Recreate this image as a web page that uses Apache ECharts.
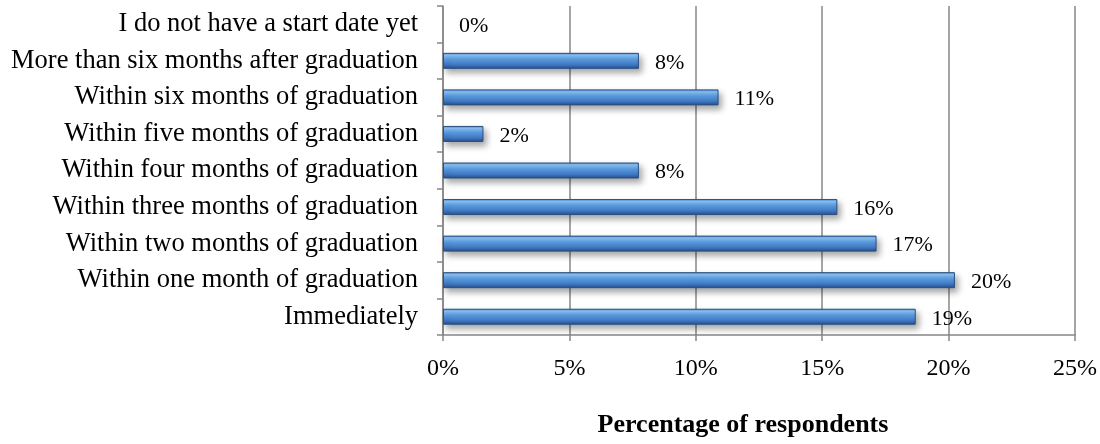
<!DOCTYPE html>
<html>
<head>
<meta charset="utf-8">
<script src="https://cdn.jsdelivr.net/npm/echarts@6/dist/echarts.min.js"></script>
<style>
html,body{margin:0;padding:0;background:#fff;}
#c{width:1100px;height:444px;}
</style>
</head>
<body>
<div id="c"></div>
<script>
var categories = [
  "Immediately",
  "Within one month of graduation",
  "Within two months of graduation",
  "Within three months of graduation",
  "Within four months of graduation",
  "Within five months of graduation",
  "Within six months of graduation",
  "More than six months after graduation",
  "I do not have a start date yet"
];
var values = [18.7, 20.25, 17.15, 15.6, 7.75, 1.6, 10.9, 7.75, 0];
var xTicks = [0, 5, 10, 15, 20, 25];
var axisTitle = "Percentage of respondents";

var FONT = '"Liberation Serif", "Times New Roman", serif';
var chart = echarts.init(document.getElementById('c'), null, {renderer: 'canvas'});

var seriesData = values.map(function (v) {
  if (v === 0) {
    return {value: v, itemStyle: {borderWidth: 0, shadowBlur: 0, shadowOffsetX: 0, shadowOffsetY: 0, opacity: 0}};
  }
  return v;
});

chart.setOption({
  animation: false,
  backgroundColor: '#ffffff',
  grid: {left: 443, right: 25, top: 6, bottom: 109, containLabel: false},
  xAxis: {
    type: 'value',
    min: xTicks[0],
    max: xTicks[xTicks.length - 1],
    interval: 5,
    axisLine: {show: true, lineStyle: {color: '#878787', width: 1.5}},
    axisTick: {show: true, length: 6, lineStyle: {color: '#878787', width: 1.5}},
    splitLine: {show: true, lineStyle: {color: '#878787', width: 1.5}},
    axisLabel: {
      margin: 22,
      color: '#000',
      fontFamily: FONT,
      fontSize: 24,
      formatter: function (v) { return v + '%'; }
    }
  },
  yAxis: {
    type: 'category',
    data: categories,
    axisLine: {show: true, lineStyle: {color: '#878787', width: 1.5}},
    axisTick: {show: true, length: 6, lineStyle: {color: '#878787', width: 1.5}},
    splitLine: {show: false},
    axisLabel: {
      margin: 25,
      color: '#000',
      fontFamily: FONT,
      fontSize: 26.5,
      padding: [5, 0, 0, 0]
    }
  },
  graphic: [{
    type: 'text',
    x: 743,
    y: 425,
    style: {
      text: axisTitle,
      fill: '#000',
      font: 'bold 26px ' + FONT,
      textAlign: 'center',
      textVerticalAlign: 'middle'
    }
  }],
  series: [{
    type: 'bar',
    data: seriesData,
    barWidth: 16,
    itemStyle: {
      color: new echarts.graphic.LinearGradient(0, 0, 0, 1, [
        {offset: 0, color: '#4a86cf'},
        {offset: 0.15, color: '#8cc3f5'},
        {offset: 0.4, color: '#5d9fe6'},
        {offset: 0.75, color: '#3f78c2'},
        {offset: 1, color: '#254d85'}
      ]),
      borderColor: '#2a4f80',
      borderWidth: 1,
      shadowColor: 'rgba(0,0,0,0.35)',
      shadowBlur: 6,
      shadowOffsetX: 3,
      shadowOffsetY: 4
    },
    label: {
      show: true,
      position: 'right',
      distance: 16,
      offset: [0, 2],
      color: '#000',
      opacity: 1,
      fontFamily: FONT,
      fontSize: 22,
      formatter: function (p) { return Math.round(p.value) + '%'; }
    }
  }]
});
</script>
</body>
</html>
